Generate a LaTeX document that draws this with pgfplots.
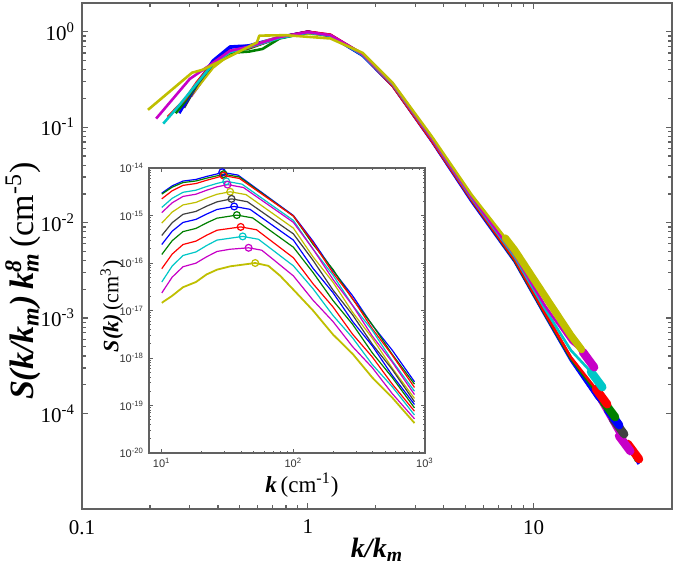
\documentclass[border=0pt]{standalone}
\usepackage{pgfplots}
\pgfplotsset{compat=1.18}
\usepackage{fontspec}
\setmainfont{Liberation Serif}
\newfontfamily\arialf{Liberation Sans}
\definecolor{mb}{rgb}{0,0,1}
\definecolor{mg}{rgb}{0,0.5,0}
\definecolor{mr}{rgb}{1,0,0}
\definecolor{mc}{rgb}{0,0.78,0.78}
\definecolor{mm}{rgb}{0.78,0,0.78}
\definecolor{my}{rgb}{0.75,0.75,0}
\definecolor{mk}{rgb}{0.25,0.25,0.25}
\definecolor{frame}{rgb}{0.38,0.38,0.38}
\begin{document}
\begin{tikzpicture}
\pgfplotsset{
  ml/.style={line width=1.3pt, line join=round},
  tl/.style={line width=4.2pt, line cap=round, line join=round},
  il/.style={line width=0.6pt, line join=round},
  pk/.style={only marks, mark=o, mark size=1.7pt, line width=0.6pt},
}
\begin{axis}[name=main, at={(0,0)}, anchor=south west,
  scale only axis, width=295pt, height=253pt,
  xmode=log, ymode=log, xmin=0.1, xmax=41, ymin=1e-5, ymax=2,
  xtick={0.1,1,10}, xticklabels={0.1,1,10},
  ytick={1e-4,1e-3,1e-2,1e-1,1},
  yticklabels={10\textsuperscript{-4},10\textsuperscript{-3},10\textsuperscript{-2},10\textsuperscript{-1},10\textsuperscript{0}},
  tick label style={font=\fontsize{10.5}{12}\selectfont},
  xticklabel style={yshift=-2pt},
  axis line style={frame, line width=0.8pt},
  every tick/.style={frame, line width=0.6pt},
  major tick length=3pt, minor tick length=1.8pt,
  tick align=inside,
  xlabel={\bfseries\itshape k/k\textsubscript{m}},
  ylabel={{\bfseries\itshape S(k/k\textsubscript{m})\,k\rlap{\textsuperscript{8}}\textsubscript{m}}\,(cm\textsuperscript{-5})},
  xlabel style={at={(axis description cs:0.5,-0.081)}, anchor=center, font=\fontsize{14}{16}\selectfont},
  ylabel style={at={(axis description cs:-0.1,0.45)}, anchor=center, font=\fontsize{17}{19}\selectfont},
]
% curve 1 blue
\addplot[ml, mb] coordinates {(0.347,0.35)(0.38,0.48)(0.452,0.68)(0.55,0.72)(0.75,0.88)(1.0,1.0)(1.259,0.91)(1.75,0.565)(2.377,0.272)(3.54,0.072)(5.321,0.0170)(8.241,4.0e-3)(11.22,1.10e-3)(14.62,3.72e-4)(19.05,1.48e-4)(22.39,8.6e-5)(25.12,5.5e-5)(29.2,2.95e-5)};
% curve 2 green
\addplot[ml, mg] coordinates {(0.339,0.33)(0.38,0.47)(0.452,0.61)(0.55,0.67)(0.75,0.87)(1.0,0.99)(1.259,0.92)(1.75,0.58)(2.377,0.28)(3.54,0.074)(5.321,0.0175)(8.241,4.1e-3)(11.22,1.12e-3)(14.62,3.8e-4)(19.05,1.51e-4)(22.39,8.7e-5)(25.12,5.6e-5)(28.5,3.16e-5)};
% curve 3 red
\addplot[ml, mr] coordinates {(0.333,0.30)(0.38,0.46)(0.452,0.63)(0.55,0.69)(0.75,0.86)(1.0,1.0)(1.259,0.91)(1.75,0.57)(2.377,0.276)(3.54,0.073)(5.321,0.0172)(8.241,4.05e-3)(11.22,1.11e-3)(14.62,3.75e-4)(19.05,1.49e-4)(22.39,8.6e-5)(26.12,4.81e-5)(29.31,3.33e-5)};
\addplot[tl, mr] coordinates {(26.12,4.81e-5)(29.31,3.33e-5)};
% curve 4 cyan
\addplot[ml, mc] coordinates {(0.316,0.24)(0.38,0.45)(0.452,0.62)(0.55,0.70)(0.75,0.87)(1.0,0.98)(1.259,0.92)(1.75,0.575)(2.377,0.278)(3.54,0.074)(5.321,0.0174)(8.241,4.1e-3)(11.22,1.12e-3)(14.62,3.8e-4)(19.05,1.5e-4)(22.39,8.7e-5)(26.3,4.17e-5)};
% curve 5 magenta
\addplot[ml, mm] coordinates {(0.304,0.21)(0.38,0.44)(0.452,0.60)(0.55,0.69)(0.75,0.88)(1.0,1.0)(1.259,0.93)(1.75,0.585)(2.377,0.282)(3.54,0.075)(5.321,0.0176)(8.241,4.1e-3)(11.22,1.12e-3)(14.62,3.8e-4)(19.05,1.5e-4)(23.88,5.83e-5)(26.79,4.04e-5)};
\addplot[tl, mm] coordinates {(23.88,5.83e-5)(26.79,4.04e-5)};
% curve 6 yellow
\addplot[ml, my] coordinates {(0.292,0.19)(0.324,0.26)(0.38,0.42)(0.452,0.58)(0.55,0.70)(0.75,0.89)(1.0,0.96)(1.259,0.90)(1.75,0.59)(2.377,0.285)(3.54,0.076)(5.321,0.0178)(8.241,4.2e-3)(11.22,1.15e-3)(14.62,3.85e-4)(19.05,1.5e-4)(22.39,8.7e-5)(24.5,6.3e-5)};
% curve 7 black
\addplot[ml, mk] coordinates {(0.283,0.16)(0.324,0.28)(0.38,0.46)(0.452,0.62)(0.55,0.68)(0.75,0.88)(1.0,1.0)(1.259,0.91)(1.75,0.58)(2.377,0.28)(3.54,0.073)(5.321,0.0173)(8.241,4.05e-3)(11.22,1.10e-3)(14.62,3.75e-4)(19.05,1.48e-4)(22.44,8.79e-5)(25.18,6.08e-5)};
\addplot[tl, mk] coordinates {(22.44,8.79e-5)(25.18,6.08e-5)};
% curve 8 blue
\addplot[ml, mb] coordinates {(0.27,0.14)(0.324,0.29)(0.38,0.50)(0.452,0.70)(0.50,0.71)(0.57,0.71)(0.63,0.76)(0.75,0.87)(1.0,1.0)(1.259,0.90)(1.75,0.56)(2.377,0.27)(3.54,0.071)(5.321,0.0165)(8.241,3.9e-3)(11.22,1.07e-3)(14.62,3.6e-4)(19.05,1.45e-4)(21.33,1.09e-4)(23.93,7.55e-5)};
\addplot[tl, mb] coordinates {(21.33,1.09e-4)(23.93,7.55e-5)};
% curve 9 green
\addplot[ml, mg] coordinates {(0.26,0.14)(0.288,0.19)(0.324,0.29)(0.38,0.46)(0.452,0.60)(0.55,0.62)(0.63,0.66)(0.75,0.85)(1.0,0.98)(1.259,0.92)(1.75,0.57)(2.377,0.28)(3.54,0.074)(5.321,0.0172)(8.241,4.0e-3)(11.22,1.10e-3)(14.62,3.75e-4)(20.46,1.32e-4)(22.96,9.16e-5)};
\addplot[tl, mg] coordinates {(20.46,1.32e-4)(22.96,9.16e-5)};
% curve 10 red
\addplot[ml, mr] coordinates {(0.24,0.128)(0.288,0.20)(0.324,0.30)(0.38,0.47)(0.452,0.62)(0.55,0.68)(0.75,0.87)(1.0,1.0)(1.259,0.93)(1.75,0.575)(2.377,0.27)(3.54,0.072)(5.321,0.0172)(8.241,4.1e-3)(11.22,1.13e-3)(14.62,3.9e-4)(18.88,1.81e-4)(21.18,1.25e-4)};
\addplot[tl, mr] coordinates {(18.88,1.81e-4)(21.18,1.25e-4)};
% curve 11 cyan
\addplot[ml, mc] coordinates {(0.229,0.109)(0.27,0.17)(0.324,0.29)(0.38,0.46)(0.452,0.61)(0.55,0.69)(0.75,0.86)(1.0,0.98)(1.259,0.91)(1.75,0.57)(2.377,0.28)(3.54,0.076)(5.321,0.0180)(8.241,4.4e-3)(11.22,1.25e-3)(14.62,4.6e-4)(17.95,2.73e-4)(20.14,1.89e-4)};
\addplot[tl, mc] coordinates {(17.95,2.73e-4)(20.14,1.89e-4)};
% curve 12 magenta
\addplot[ml, mm] coordinates {(0.213,0.123)(0.30,0.32)(0.38,0.47)(0.452,0.63)(0.55,0.70)(0.75,0.88)(1.0,0.99)(1.259,0.92)(1.75,0.58)(2.377,0.285)(3.54,0.077)(5.321,0.0185)(8.241,4.6e-3)(11.22,1.35e-3)(14.62,5.6e-4)(16.52,4.42e-4)(18.54,3.05e-4)};
\addplot[tl, mm] coordinates {(16.52,4.42e-4)(18.54,3.05e-4)};
% curve 13 yellow
\addplot[ml, my] coordinates {(0.196,0.152)(0.307,0.372)(0.343,0.40)(0.45,0.55)(0.595,0.77)(0.61,0.91)(0.8,0.92)(1.1,0.87)(1.259,0.85)(1.75,0.60)(2.377,0.29)(3.54,0.080)(5.321,0.0195)(7.5,6.9e-3)(8.241,5.17e-3)(11.22,1.70e-3)(14.62,6.6e-4)(16.3,4.68e-4)};
\addplot[line width=3.6pt, line cap=round, line join=round, my] coordinates {(7.5,6.9e-3)(8.241,5.17e-3)(11.22,1.70e-3)(14.62,6.6e-4)(16.3,4.68e-4)};
\end{axis}

\begin{axis}[at={(33.5pt,28pt)}, anchor=south west,
  scale only axis, width=138pt, height=142.5pt,
  xmode=log, ymode=log, xmin=8, xmax=1000, ymin=1e-20, ymax=1e-14,
  axis background/.style={fill=white},
  xtick={10,100,1000},
  xticklabels={10\textsuperscript{1},10\textsuperscript{2},10\textsuperscript{3}},
  ytick={1e-20,1e-19,1e-18,1e-17,1e-16,1e-15,1e-14},
  yticklabels={10\textsuperscript{-20},10\textsuperscript{-19},10\textsuperscript{-18},10\textsuperscript{-17},10\textsuperscript{-16},10\textsuperscript{-15},10\textsuperscript{-14}},
  tick label style={font=\arialf\fontsize{5.5}{6.5}\selectfont, text=black!80},
  xticklabel style={yshift=1pt},
  yticklabel style={xshift=1pt},
  axis line style={frame, line width=0.6pt},
  every tick/.style={frame, line width=0.4pt},
  major tick length=2pt, minor tick length=1.2pt,
  tick align=inside,
  xlabel={{\bfseries\itshape k}\,(cm\textsuperscript{-1})},
  ylabel={{\bfseries\itshape S(k)}\,(cm\textsuperscript{3})},
  xlabel style={at={(axis description cs:0.554,-0.112)}, anchor=center, font=\fontsize{11.5}{13}\selectfont},
  ylabel style={at={(axis description cs:-0.135,0.515)}, anchor=center, font=\fontsize{11}{13}\selectfont},
]
\addplot[il, mb] coordinates {(10,2.95e-15)(12.0,4.21e-15)(14.5,5.31e-15)(18.2,5.75e-15)(21.9,6.64e-15)(26.3,7.50e-15)(28.8,8.13e-15)(38.0,7.08e-15)(70.8,2.01e-15)(100,1.00e-15)(141,2.88e-16)(200,6.92e-17)(282,2.04e-17)(398,4.90e-18)(562,1.48e-18)(832,3.16e-19)};
\addplot[il, mg] coordinates {(10,2.82e-15)(12.0,3.95e-15)(14.5,4.94e-15)(18.2,5.33e-15)(21.9,6.11e-15)(26.3,6.85e-15)(29.5,7.41e-15)(38.9,6.46e-15)(70.8,1.95e-15)(100,9.75e-16)(141,2.47e-16)(200,7.33e-17)(282,1.73e-17)(398,5.02e-18)(562,1.21e-18)(832,2.82e-19)};
\addplot[il, mr] coordinates {(10,2.24e-15)(12.0,3.32e-15)(14.5,4.31e-15)(18.2,4.71e-15)(21.9,5.52e-15)(26.3,6.32e-15)(29.5,6.92e-15)(38.9,6.03e-15)(70.8,1.90e-15)(100,9.73e-16)(141,2.69e-16)(200,6.18e-17)(282,1.79e-17)(398,4.12e-18)(562,1.16e-18)(832,2.40e-19)};
\addplot[il, mc] coordinates {(10,1.48e-15)(12.0,2.30e-15)(14.5,3.08e-15)(18.2,3.41e-15)(21.9,4.07e-15)(26.3,4.74e-15)(30.9,5.25e-15)(40.7,4.57e-15)(70.8,1.55e-15)(100,7.89e-16)(141,1.95e-16)(200,5.55e-17)(282,1.28e-17)(398,3.81e-18)(562,8.79e-19)(832,2.00e-19)};
\addplot[il, mm] coordinates {(10,1.15e-15)(12.0,1.85e-15)(14.5,2.52e-15)(18.2,2.81e-15)(21.9,3.40e-15)(26.3,4.01e-15)(31.6,4.47e-15)(41.7,3.89e-15)(70.8,1.40e-15)(100,7.18e-16)(141,1.97e-16)(200,4.51e-17)(282,1.27e-17)(398,2.89e-18)(562,8.32e-19)(832,1.70e-19)};
\addplot[il, my] coordinates {(10,6.92e-16)(12.0,1.18e-15)(14.5,1.67e-15)(18.2,1.89e-15)(21.9,2.33e-15)(26.3,2.80e-15)(33.1,3.16e-15)(43.7,2.75e-15)(70.8,1.07e-15)(100,5.43e-16)(141,1.35e-16)(200,3.94e-17)(282,9.14e-18)(398,2.61e-18)(562,6.19e-19)(832,1.41e-19)};
\addplot[il, mk] coordinates {(10,3.80e-16)(12.0,7.06e-16)(14.5,1.06e-15)(18.2,1.22e-15)(21.9,1.57e-15)(26.3,1.94e-15)(33.9,2.24e-15)(44.7,1.95e-15)(70.8,8.02e-16)(100,4.11e-16)(141,1.14e-16)(200,2.70e-17)(282,8.05e-18)(398,1.95e-18)(562,5.79e-19)(832,1.20e-19)};
\addplot[il, mb] coordinates {(10,2.45e-16)(12.0,4.68e-16)(14.5,7.14e-16)(18.2,8.28e-16)(21.9,1.07e-15)(26.3,1.34e-15)(35.5,1.55e-15)(46.8,1.35e-15)(70.8,5.98e-16)(100,3.04e-16)(141,7.73e-17)(200,2.37e-17)(282,5.87e-18)(398,1.80e-18)(562,4.37e-19)(832,1.05e-19)};
\addplot[il, mg] coordinates {(10,1.51e-16)(12.0,2.95e-16)(14.5,4.58e-16)(18.2,5.35e-16)(21.9,6.98e-16)(26.3,8.79e-16)(37.2,1.02e-15)(49.0,8.91e-16)(70.8,4.28e-16)(100,2.15e-16)(141,6.32e-17)(200,1.62e-17)(282,5.11e-18)(398,1.28e-18)(562,3.94e-19)(832,8.91e-20)};
\addplot[il, mr] coordinates {(10,7.59e-17)(12.0,1.54e-16)(14.5,2.45e-16)(18.2,2.89e-16)(21.9,3.84e-16)(26.3,4.90e-16)(39.8,5.75e-16)(52.5,5.01e-16)(70.8,2.67e-16)(100,1.29e-16)(141,3.66e-17)(200,1.19e-17)(282,3.16e-18)(398,1.05e-18)(562,2.86e-19)(832,7.59e-20)};
\addplot[il, mc] coordinates {(10,3.98e-17)(12.0,8.63e-17)(14.5,1.44e-16)(18.2,1.71e-16)(21.9,2.33e-16)(26.3,3.04e-16)(41.2,3.63e-16)(54.3,3.16e-16)(70.8,1.81e-16)(100,8.71e-17)(141,2.87e-17)(200,7.87e-18)(282,2.65e-18)(398,7.28e-19)(562,2.51e-19)(832,6.31e-20)};
\addplot[il, mm] coordinates {(10,2.34e-17)(12.0,5.04e-17)(14.5,8.34e-17)(18.2,9.93e-17)(21.9,1.35e-16)(26.3,1.75e-16)(33.1,1.95e-16)(45.7,2.09e-16)(57.5,1.86e-16)(70.8,1.17e-16)(100,5.36e-17)(141,1.65e-17)(200,5.86e-18)(282,1.73e-18)(398,6.25e-19)(562,1.80e-19)(832,5.25e-20)};
\addplot[il, my, line width=0.9pt] coordinates {(10,1.45e-17)(12.0,2.04e-17)(14.5,3.09e-17)(18.2,3.98e-17)(21.9,5.75e-17)(26.3,7.24e-17)(33.1,8.51e-17)(51.3,1.00e-16)(64.6,8.71e-17)(79.4,5.37e-17)(100,2.75e-17)(141,1.00e-17)(200,3.12e-18)(282,1.22e-18)(398,3.87e-19)(562,1.48e-19)(832,4.27e-20)};
% peak markers
\addplot[pk, mb] coordinates {(28.8,8.13e-15)};
\addplot[pk, mg] coordinates {(29.5,7.41e-15)};
\addplot[pk, mr] coordinates {(29.5,6.92e-15)};
\addplot[pk, mc] coordinates {(30.9,5.25e-15)};
\addplot[pk, mm] coordinates {(31.6,4.47e-15)};
\addplot[pk, my] coordinates {(33.1,3.16e-15)};
\addplot[pk, mk] coordinates {(33.9,2.24e-15)};
\addplot[pk, mb] coordinates {(35.5,1.55e-15)};
\addplot[pk, mg] coordinates {(37.2,1.02e-15)};
\addplot[pk, mr] coordinates {(39.8,5.75e-16)};
\addplot[pk, mc] coordinates {(41.2,3.63e-16)};
\addplot[pk, mm] coordinates {(45.7,2.09e-16)};
\addplot[pk, my] coordinates {(51.3,1.00e-16)};
\end{axis}
\pgfresetboundingbox
\path[use as bounding box] (-41pt,-34pt) rectangle (296.5pt,254.5pt);
\end{tikzpicture}
\end{document}
